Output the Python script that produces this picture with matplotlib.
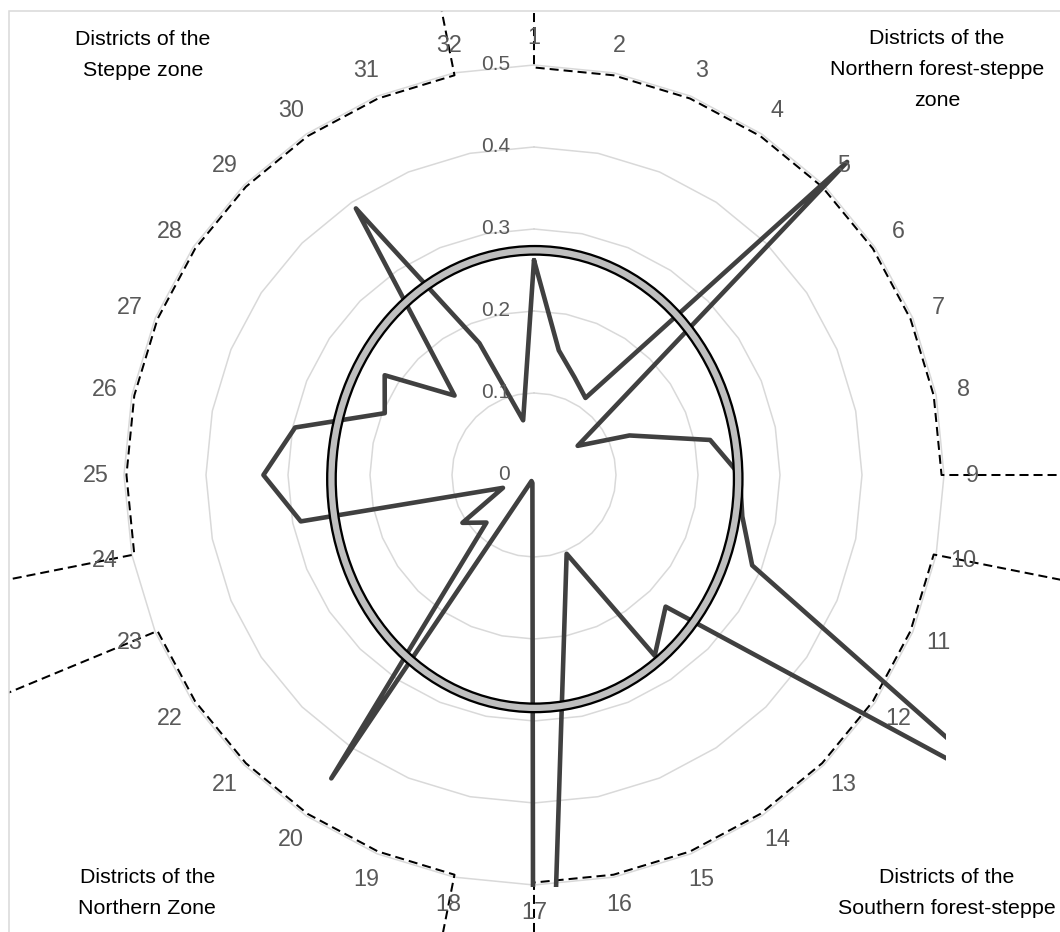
import numpy as np
import matplotlib
matplotlib.use('Agg')
import matplotlib.pyplot as plt
from matplotlib.patches import Ellipse, Rectangle

plt.rcParams['font.family'] = ['Liberation Sans', 'DejaVu Sans']
plt.rcParams['lines.scale_dashes'] = False

districts = list(range(1, 33))
# value per district (16 is empty, 12 and 17 run past the plot area)
values = [0.262, 0.155, 0.129, 0.113, 0.54, 0.064, 0.126, 0.219,
          0.251, 0.259, 0.288, 0.694, 0.227, 0.265, 0.104, np.nan,
          1.35, 0.01, 0.008, 0.445, 0.082, 0.105, 0.041, 0.29,
          0.33, 0.297, 0.197, 0.219, 0.137, 0.391, 0.174, 0.068]
r_ticks = [0, 0.1, 0.2, 0.3, 0.4, 0.5]
r_labels = ['0', '0.1', '0.2', '0.3', '0.4', '0.5']

# zones: first and last district of each group
zone_first = [1, 10, 18, 24]
zone_last = [9, 17, 23, 32]
zone_names = ['Districts of the\nNorthern forest-steppe\nzone',
              'Districts of the\nSouthern forest-steppe',
              'Districts of the\nNorthern Zone',
              'Districts of the\nSteppe zone']
zone_label_xy = [(0.884, 0.925), (0.893, 0.042), (0.139, 0.042), (0.135, 0.941)]

# hand drawn oval (half widths in value units)
oval_rx, oval_ry = 0.248, 0.279

theta = 2 * np.pi * (np.array(districts) - 1) / 32

fig = plt.figure(figsize=(10.6, 9.32), dpi=100)
fig.patch.set_facecolor('white')
ax = fig.add_axes([124 / 1060, 47 / 932, 820 / 1060, 820 / 932], projection='polar')
ax.set_theta_zero_location('N')
ax.set_theta_direction(-1)
ax.set_ylim(0, 0.5)
ax.set_xticks([])
ax.set_yticks([])
ax.grid(False)
ax.spines['polar'].set_visible(False)
ax.patch.set_alpha(0)

# chart border (only top and left are inside the picture)
border = Rectangle((9 / 1060, -0.1), 1.2, 1.1 - 11 / 932, transform=fig.transFigure,
                   fill=False, ec='#d9d9d9', lw=1.1)
fig.add_artist(border)

# polygon gridlines
ring_theta = np.append(theta, theta[0])
for lev in r_ticks[1:]:
    ax.plot(ring_theta, [lev] * len(ring_theta), color='#d9d9d9', lw=1.1,
            zorder=1, clip_on=False)

for v, s in zip(r_ticks, r_labels):
    ax.annotate(s, xy=(0, v), xytext=(-24, 0), textcoords='offset pixels',
                ha='right', va='center', fontsize=15, color='#595959',
                annotation_clip=False, zorder=5)

for t, d in zip(theta, districts):
    ax.text(t, 0.534, str(d), ha='center', va='center', fontsize=16.8,
            color='#595959', zorder=5)

# zone boundaries
clip_border = Rectangle((9 / 1060, -0.1), 1.2, 1.1 - 11 / 932, transform=fig.transFigure)
for a, b in zip(zone_first, zone_last):
    tt = theta[a - 1:b]
    zt = np.concatenate([[tt[0]], tt, [tt[-1]]])
    zr = np.concatenate([[1.0], np.full(len(tt), 0.497), [1.0]])
    dl, = ax.plot(zt, zr, color='black', lw=1.45, ls=(0, (6.5, 3.6)), zorder=2)
    dl.set_clip_path(clip_border)

# data series
vals = np.array(values)
ok = np.isfinite(vals)
st = np.append(theta[ok], theta[ok][0])
sv = np.append(vals[ok], vals[ok][0])
line, = ax.plot(st, sv, color='#404040', lw=3.3, solid_joinstyle='round',
                solid_capstyle='round', zorder=3)
plot_area = Rectangle((-0.002, -0.003), 1.004, 1.006, transform=ax.transAxes)
line.set_clip_path(plot_area)

# oval
for lw, c in [(7.8, 'black'), (4.5, '#bfbfbf')]:
    ax.add_patch(Ellipse((0.501, 0.495), 2 * oval_rx, 2 * oval_ry,
                         transform=ax.transAxes, fill=False, ec=c, lw=lw,
                         zorder=4, clip_on=False))

for name, (x, y) in zip(zone_names, zone_label_xy):
    fig.text(x, y, name, ha='center', va='center', ma='center', fontsize=15.4,
             linespacing=1.8, color='black')

fig.savefig('out.png', dpi=100, facecolor='white')
